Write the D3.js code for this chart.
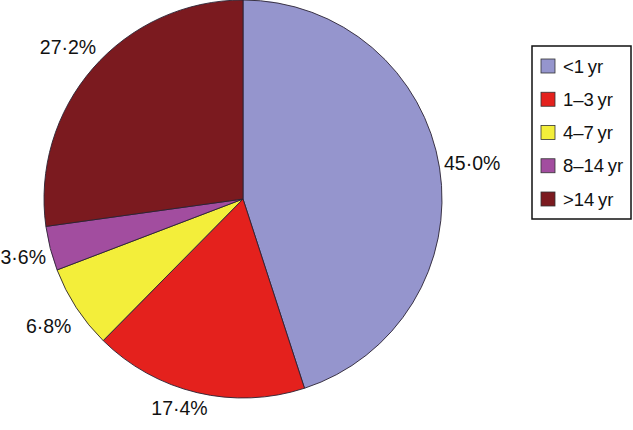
<!DOCTYPE html>
<html>
<head>
<meta charset="utf-8">
<script src="https://cdn.jsdelivr.net/npm/d3@7"></script>
<style>
  html, body { margin: 0; padding: 0; background: #fff; }
  svg { display: block; }
  text { font-family: "Liberation Sans", Arial, Helvetica, sans-serif; fill: #111; }
</style>
</head>
<body>
<svg id="chart" width="633" height="430"></svg>
<script>
const categories = ["<1\u2009yr", "1\u20133\u2009yr", "4\u20137\u2009yr", "8\u201314\u2009yr", ">14\u2009yr"];
const values = [45.0, 17.4, 6.8, 3.6, 27.2];
const valueLabels = ["45\u00b70%", "17\u00b74%", "6\u00b78%", "3\u00b76%", "27\u00b72%"];
const colors = ["#9595cd", "#e4211d", "#f3ee3a", "#a24d9f", "#7b1a1f"];

const svg = d3.select("#chart");
const W = 633, H = 430;
const cx = 243, cy = 199, R = 199;

const pie = d3.pie().sort(null).value(d => d)(values);
const arc = d3.arc().innerRadius(0).outerRadius(R);

const g = svg.append("g").attr("transform", `translate(${cx},${cy})`);
g.selectAll("path.slice")
  .data(pie)
  .join("path")
  .attr("class", "slice")
  .attr("d", arc)
  .attr("fill", (d, i) => colors[i])
  .attr("stroke", "#2a2233")
  .attr("stroke-width", 0.9)
  .attr("stroke-linejoin", "round");

// percentage labels
const labelR = 232;
const labels = g.selectAll("text.pct")
  .data(pie)
  .join("text")
  .attr("class", "pct")
  .attr("text-anchor", "middle")
  .attr("dominant-baseline", "central")
  .style("font-size", "19.5px")
  .text((d, i) => valueLabels[i]);

labels.each(function(d) {
  const a = (d.startAngle + d.endAngle) / 2;
  let x = labelR * Math.sin(a);
  let y = -labelR * Math.cos(a);
  const maxY = H - cy - 22;
  if (y > maxY) {           // slide back along the ray to stay in frame
    const t = maxY / (-Math.cos(a));
    x = t * Math.sin(a) - 14;
    y = maxY;
  }
  const w = this.getComputedTextLength();
  x = Math.max(x, -cx + w / 2 + 0.5);
  d3.select(this).attr("x", x).attr("y", y);
});

// legend
const lx = 532, ly = 46, lw = 99, lh = 173;
const legend = svg.append("g");
legend.append("rect")
  .attr("x", lx).attr("y", ly).attr("width", lw).attr("height", lh)
  .attr("fill", "#fff").attr("stroke", "#111").attr("stroke-width", 1.5);

const rowY = d3.scalePoint().domain(categories).range([ly + 20, ly + 153]);
const items = legend.selectAll("g.item")
  .data(categories)
  .join("g")
  .attr("class", "item")
  .attr("transform", d => `translate(0,${rowY(d)})`);
items.append("rect")
  .attr("x", lx + 9).attr("y", -7).attr("width", 14).attr("height", 14)
  .attr("fill", (d, i) => colors[i])
  .attr("stroke", "#333").attr("stroke-width", 0.8);
items.append("text")
  .attr("x", lx + 31).attr("y", 0)
  .attr("dominant-baseline", "central")
  .style("font-size", "18.5px")
  .text(d => d);
</script>
</body>
</html>
